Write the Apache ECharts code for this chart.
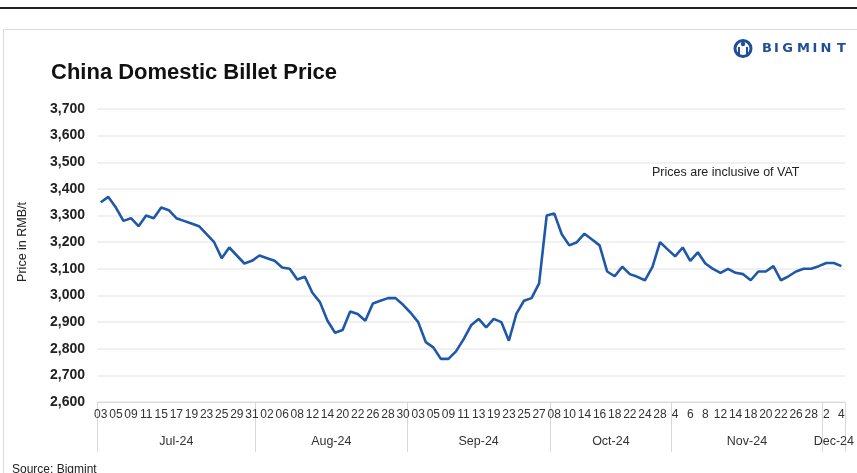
<!DOCTYPE html>
<html>
<head>
<meta charset="utf-8">
<script src="https://cdn.jsdelivr.net/npm/echarts@6/dist/echarts.min.js"></script>
<style>
html,body{margin:0;padding:0;background:#fff;}
#c{width:857px;height:473px;}
</style>
</head>
<body>
<div id="c"></div>
<script>
// ---- data ----
const dates = [
  '2024-07-03','2024-07-04','2024-07-05','2024-07-08','2024-07-09','2024-07-10','2024-07-11','2024-07-12','2024-07-15','2024-07-16','2024-07-17','2024-07-18','2024-07-19','2024-07-22','2024-07-23','2024-07-24','2024-07-25','2024-07-26','2024-07-29','2024-07-30','2024-07-31',
  '2024-08-01','2024-08-02','2024-08-05','2024-08-06','2024-08-07','2024-08-08','2024-08-09','2024-08-12','2024-08-13','2024-08-14','2024-08-16','2024-08-20','2024-08-21','2024-08-22','2024-08-23','2024-08-26','2024-08-27','2024-08-28','2024-08-29','2024-08-30',
  '2024-09-02','2024-09-03','2024-09-04','2024-09-05','2024-09-06','2024-09-09','2024-09-10','2024-09-11','2024-09-12','2024-09-13','2024-09-18','2024-09-19','2024-09-20','2024-09-23','2024-09-24','2024-09-25','2024-09-26','2024-09-27','2024-09-30',
  '2024-10-08','2024-10-09','2024-10-10','2024-10-11','2024-10-14','2024-10-15','2024-10-16','2024-10-17','2024-10-18','2024-10-21','2024-10-22','2024-10-23','2024-10-24','2024-10-25','2024-10-28','2024-10-31',
  '2024-11-04','2024-11-05','2024-11-06','2024-11-07','2024-11-08','2024-11-11','2024-11-12','2024-11-13','2024-11-14','2024-11-15','2024-11-18','2024-11-19','2024-11-20','2024-11-21','2024-11-22','2024-11-25','2024-11-26','2024-11-27','2024-11-28','2024-11-29',
  '2024-12-02','2024-12-03','2024-12-04'
];
const prices = [
  3350,3370,3330,3280,3290,3260,3300,3290,3330,3320,3290,3280,3270,3260,3230,3200,3140,3180,3150,3120,3130,
  3150,3140,3130,3105,3100,3060,3070,3010,2975,2905,2860,2870,2940,2930,2905,2970,2980,2990,2990,2965,
  2935,2900,2825,2805,2762,2762,2790,2835,2888,2912,2880,2912,2900,2830,2932,2980,2990,3045,3300,
  3308,3230,3188,3200,3232,3210,3188,3090,3072,3108,3080,3070,3057,3107,3200,3173,
  3147,3180,3130,3162,3120,3100,3085,3100,3085,3080,3057,3090,3090,3110,3057,3072,3090,3100,3100,3110,
  3122,3122,3110
];
const monthNames = { '07':'Jul-24', '08':'Aug-24', '09':'Sep-24', '10':'Oct-24', '11':'Nov-24', '12':'Dec-24' };
const yTicks = { min: 2600, max: 3700, step: 100 };

// ---- derived month layout (for second axis) ----
const months = [];
dates.forEach((d, i) => {
  const m = d.slice(5, 7);
  if (!months.length || months[months.length - 1].m !== m) months.push({ m, start: i, n: 0 });
  months[months.length - 1].n++;
});
const N = dates.length;
const halfCats = [];
for (let k = 0; k <= 2 * N; k++) halfCats.push(String(k));
const labelAt = {};
const tickAt = new Set([2 * N]);
months.forEach(o => { labelAt[2 * o.start + o.n] = monthNames[o.m]; tickAt.add(2 * o.start); });

function dayLabel(d) {
  const m = d.slice(5, 7), day = d.slice(8, 10);
  return (m === '11' || m === '12') ? String(parseInt(day, 10)) : day;
}

const font = 'Liberation Sans, Arial, sans-serif';
const logoBlue = '#1F4E9A';
const logoLetters = [['B', 767], ['I', 776.5], ['G', 787.5], ['M', 803.5], ['I', 815], ['N', 826], ['T', 841.5]];
const logoGraphics = logoLetters.map(([ch, x]) => ({
  type: 'text', x: x, y: 49,
  style: { text: ch, fontFamily: 'DejaVu Sans, sans-serif', fontSize: 13, fontWeight: 'bold',
           fill: logoBlue, align: 'center', verticalAlign: 'middle' }
}));

const chart = echarts.init(document.getElementById('c'), null, { renderer: 'canvas' });
chart.setOption({
  backgroundColor: '#fff',
  animation: false,
  grid: { left: 97, right: 9, top: 109, bottom: 71 },
  title: {
    text: 'China Domestic Billet Price',
    left: 46, top: 57,
    textStyle: { fontFamily: font, fontSize: 22, fontWeight: 'bold', color: '#111' }
  },
  xAxis: [
    {
      type: 'category',
      data: dates,
      boundaryGap: true,
      axisLine: { show: true, lineStyle: { color: '#d9d9d9', width: 1 } },
      axisTick: { show: false },
      axisLabel: {
        interval: 1,
        formatter: v => dayLabel(v),
        fontFamily: font, fontSize: 12, color: '#333', margin: 7
      },
      splitLine: { show: false }
    },
    {
      type: 'category',
      data: halfCats,
      boundaryGap: false,
      position: 'bottom',
      axisLine: { show: false },
      axisTick: {
        show: true,
        interval: (i) => tickAt.has(i),
        length: 50,
        lineStyle: { color: '#d9d9d9', width: 1 }
      },
      axisLabel: {
        interval: (i) => labelAt[i] !== undefined,
        formatter: (v) => labelAt[+v] || '',
        fontFamily: font, fontSize: 12.5, color: '#333', margin: 33
      },
      splitLine: { show: false }
    }
  ],
  yAxis: {
    type: 'value',
    min: yTicks.min, max: yTicks.max, interval: yTicks.step,
    axisLine: { show: false },
    axisTick: { show: false },
    axisLabel: {
      formatter: v => v.toLocaleString('en-US'),
      fontFamily: font, fontSize: 14, fontWeight: 'bold', color: '#222', margin: 12
    },
    splitLine: { lineStyle: { color: '#ececec', width: 1.5 } }
  },
  series: [{
    type: 'line',
    data: prices,
    xAxisIndex: 0,
    symbol: 'none',
    lineStyle: { color: '#1F58A8', width: 2.6 },
    itemStyle: { color: '#1F58A8' }
  }],
  graphic: [
    { type: 'line', shape: { x1: 0, y1: 8, x2: 857, y2: 8 }, style: { stroke: '#222', lineWidth: 2 } },
    { type: 'rect', shape: { x: 3.5, y: 29.5, width: 900, height: 500 }, style: { stroke: '#dcdcdc', fill: null, lineWidth: 1 } },
    { type: 'text', left: 16, top: 202, rotation: Math.PI / 2,
      style: { text: 'Price in RMB/t', fontFamily: font, fontSize: 12.5, fill: '#222' } },
    { type: 'text', left: 652, top: 166,
      style: { text: 'Prices are inclusive of VAT', fontFamily: font, fontSize: 12.5, fill: '#222' } },
    { type: 'text', left: 12, top: 464,
      style: { text: 'Source: Bigmint', fontFamily: font, fontSize: 12, fill: '#222' } },
    { type: 'circle', shape: { cx: 743, cy: 48.5, r: 8 }, style: { stroke: logoBlue, fill: null, lineWidth: 3 } },
    { type: 'circle', shape: { cx: 743, cy: 44, r: 2.2 }, style: { fill: logoBlue } },
    { type: 'line', shape: { x1: 739, y1: 47, x2: 739, y2: 56 }, style: { stroke: logoBlue, lineWidth: 2 } },
    { type: 'line', shape: { x1: 747, y1: 47, x2: 747, y2: 56 }, style: { stroke: logoBlue, lineWidth: 2 } },
    ...logoGraphics
  ]
});
</script>
</body>
</html>
